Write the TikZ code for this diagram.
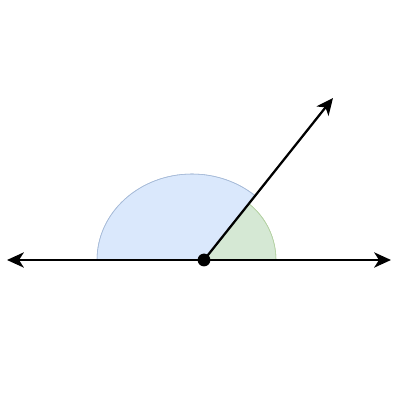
\documentclass[tikz,border=0pt]{standalone}
\usepackage{xcolor}
\usepackage{tikz}
\usetikzlibrary{arrows.meta}

\definecolor{bluefill}{HTML}{DAE8FC}
\definecolor{bluestroke}{HTML}{6C8EBF}
\definecolor{greenfill}{HTML}{D5E8D4}
\definecolor{greenstroke}{HTML}{82B366}

\begin{document}
\begin{tikzpicture}[x=0.025cm,y=0.025cm,
		ray/.style={line width=1.6pt,-{Stealth[length=4.2mm,width=3.8mm,inset=1.2mm]}},
		bline/.style={line width=1.6pt,{Stealth[length=4.2mm,width=3.8mm,inset=1.2mm]}-{Stealth[length=4.2mm,width=3.8mm,inset=1.2mm]}},
		bigpart/.style={fill=bluefill,draw=bluestroke!60,line width=0.4pt},
		smallpart/.style={fill=greenfill,draw=greenstroke!60,line width=0.4pt},
		dot/.style={circle,fill=black,inner sep=0pt,minimum size=3.2mm}]
		\useasboundingbox (0,0) rectangle (400,400);
		\coordinate (leftend) at (7,140);
		\coordinate (rightend) at (391,140);
		\coordinate (rayend) at (333,302);
		\coordinate (O) at (204,140);
		% the two angles
		\fill[bigpart] (O) -- (97,140) arc[start angle=180,end angle=48.4,x radius=95,y radius=86] -- cycle;
		\draw[bluestroke!60,line width=0.4pt] (97,140) arc[start angle=180,end angle=48.4,x radius=95,y radius=86];
		\fill[smallpart] (O) -- (276,140) arc[start angle=0,end angle=51.5,radius=72] -- cycle;
		\draw[greenstroke!60,line width=0.4pt] (276,140) arc[start angle=0,end angle=51.5,radius=72];
		% lines
		\draw[bline] (leftend) -- (rightend);
		\draw[ray] (O) -- (rayend);
		\node[dot] (vertex) at (O) {};
\end{tikzpicture}
\end{document}
